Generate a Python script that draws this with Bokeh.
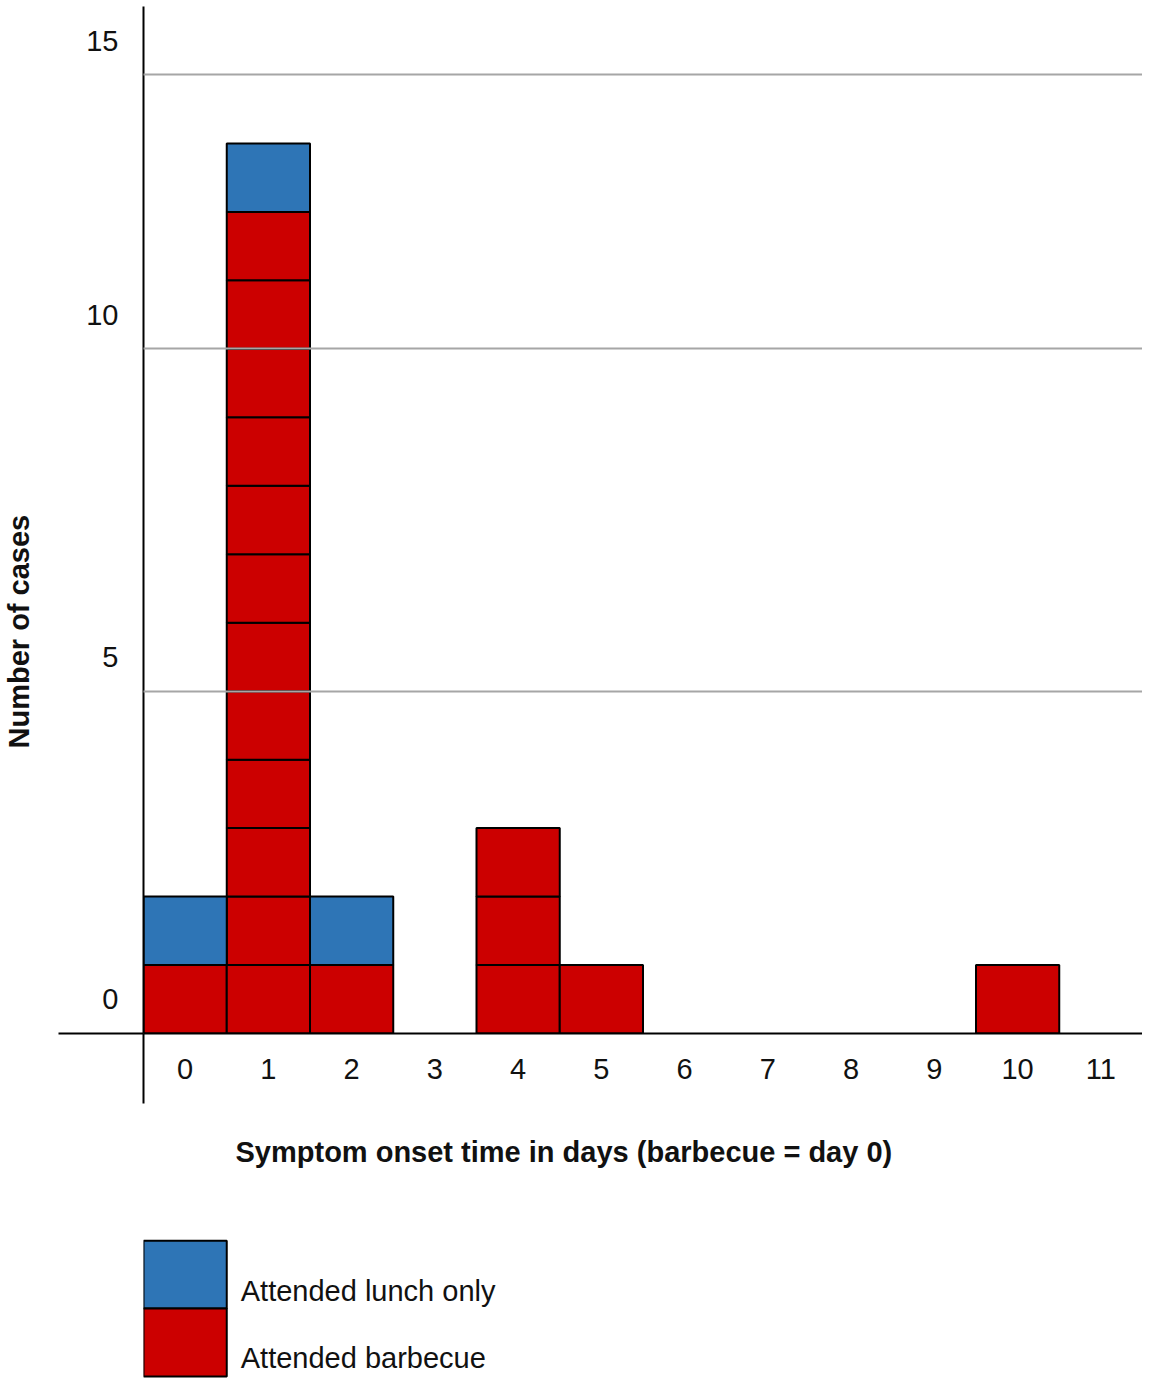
from bokeh.plotting import figure
from bokeh.layouts import column
from bokeh.models import Range1d, FixedTicker, Title, ColumnDataSource, LinearAxis
from bokeh.core.properties import value
from bokeh.embed import file_html
from bokeh.resources import INLINE

# ---- data ----
days = [0, 1, 2, 3, 4, 5, 6, 7, 8, 9, 10, 11]
barbecue = [1, 12, 1, 0, 3, 1, 0, 0, 0, 0, 1, 0]
lunch_only = [1, 1, 1, 0, 0, 0, 0, 0, 0, 0, 0, 0]
series_names = ["Attended barbecue", "Attended lunch only"]
legend_order = ["Attended lunch only", "Attended barbecue"]   # top to bottom
y_tick_labels = ["0", "5", "10", "15"]
y_tick_label_pos = [0.5, 5.5, 10.5, 14.5]
y_grid_lines = [5, 10, 14]
y_max = 15
x_title = "Symptom onset time in days (barbecue = day 0)"
y_title = "Number of cases"

FONT = "Liberation Sans"
TXT = "#111111"
FILLS = {"Attended barbecue": "#CC0000", "Attended lunch only": "#2E75B6"}


def blocks(counts, base):
    xs, bottoms, tops = [], [], []
    for d, n, b0 in zip(days, counts, base):
        for k in range(n):
            xs.append(d)
            bottoms.append(b0 + k)
            tops.append(b0 + k + 1)
    return dict(x=xs, bottom=bottoms, top=tops)


bbq_src = ColumnDataSource(blocks(barbecue, [0] * len(days)))
lunch_src = ColumnDataSource(blocks(lunch_only, barbecue))

x_lo, x_hi = days[0] - 0.5, days[-1] + 0.5
p = figure(frame_width=999, frame_height=1027,
           x_range=Range1d(x_lo, x_hi), y_range=Range1d(0, y_max),
           output_backend="svg", toolbar_location=None, title=None,
           min_border_left=143, min_border_right=0, min_border_top=6, min_border_bottom=199)
p.outline_line_color = None
p.background_fill_color = "white"

p.vbar(x="x", bottom="bottom", top="top", width=1, source=bbq_src,
       fill_color=FILLS["Attended barbecue"], line_color="black", line_width=2)
p.vbar(x="x", bottom="bottom", top="top", width=1, source=lunch_src,
       fill_color=FILLS["Attended lunch only"], line_color="black", line_width=2)

# x axis (minor tick at the y-axis position draws the short downward extension)
xa = p.xaxis[0]
xa.ticker = FixedTicker(ticks=days, minor_ticks=[x_lo])
xa.major_tick_line_color = None
xa.major_tick_out = 0
xa.major_tick_in = 0
xa.minor_tick_in = 0
xa.minor_tick_out = 70
xa.minor_tick_line_width = 2
xa.minor_tick_line_color = "black"
xa.axis_line_width = 2
xa.axis_line_color = "black"
xa.major_label_standoff = -45
xa.major_label_text_font = FONT
xa.major_label_text_font_size = "29px"
xa.major_label_text_color = TXT

# y axis (minor tick at zero draws the short leftward extension of the baseline)
ya = p.yaxis[0]
ya.ticker = FixedTicker(ticks=y_tick_label_pos, minor_ticks=[0])
ya.major_label_overrides = {pos: lab for pos, lab in zip(y_tick_label_pos, y_tick_labels)}
ya.major_tick_line_color = None
ya.major_tick_out = 0
ya.major_tick_in = 0
ya.minor_tick_in = 0
ya.minor_tick_out = 85
ya.minor_tick_line_width = 2
ya.minor_tick_line_color = "black"
ya.axis_line_width = 2
ya.axis_line_color = "black"
ya.major_label_standoff = -60
ya.major_label_text_font = FONT
ya.major_label_text_font_size = "29px"
ya.major_label_text_color = TXT

# blank spacer panel (no labels) so that the y title sits at the outer left edge
spacer = LinearAxis(ticker=FixedTicker(ticks=[], minor_ticks=[y_max]),
                    major_tick_out=46, major_tick_in=0, minor_tick_out=46, minor_tick_in=0,
                    major_label_standoff=0, axis_line_color=None,
                    major_tick_line_color="white", minor_tick_line_color="white")
p.add_layout(spacer, "left")

# grid
p.xgrid.visible = False
p.ygrid.ticker = FixedTicker(ticks=y_grid_lines)
p.ygrid.grid_line_color = "#a6a6a6"
p.ygrid.grid_line_width = 2
p.ygrid.level = "annotation"

# axis titles
p.add_layout(Title(text=y_title, align="left", offset=285, vertical_align="top", standoff=2,
                   text_font=FONT, text_font_size="29px", text_font_style="bold",
                   text_color=TXT), "left")
p.add_layout(Title(text=x_title, align="left", offset=92, vertical_align="middle", standoff=106,
                   text_font=FONT, text_font_size="29px", text_font_style="bold",
                   text_color=TXT), "below")

# legend: unit swatches in the day-0 column of a strip aligned with the chart
n_rows = len(legend_order)
leg_src = ColumnDataSource(dict(
    x=[days[0]] * n_rows,
    bottom=[n_rows - 1 - i for i in range(n_rows)],
    top=[n_rows - i for i in range(n_rows)],
    color=[FILLS[name] for name in legend_order],
    label=legend_order,
    label_x=[days[0] + 0.5] * n_rows,
))
leg = figure(frame_width=999, frame_height=148,
             x_range=Range1d(x_lo, x_hi), y_range=Range1d(-0.06, n_rows + 0.12),
             x_axis_location=None, y_axis_location=None,
             output_backend="svg", toolbar_location=None, title=None,
             min_border_left=143, min_border_right=0, min_border_top=0, min_border_bottom=0)
leg.outline_line_color = None
leg.grid.visible = False
leg.vbar(x="x", bottom="bottom", top="top", width=1, source=leg_src,
         fill_color="color", line_color="black", line_width=2)
leg.text(x="label_x", y="bottom", text="label", source=leg_src, x_offset=14, y_offset=-18,
         text_baseline="alphabetic", text_align="left", text_font=value(FONT),
         text_font_size="29px", text_color=TXT)

layout = column(p, leg, spacing=0)
open("out.html", "w").write(file_html(layout, INLINE, "Epidemic curve"))
